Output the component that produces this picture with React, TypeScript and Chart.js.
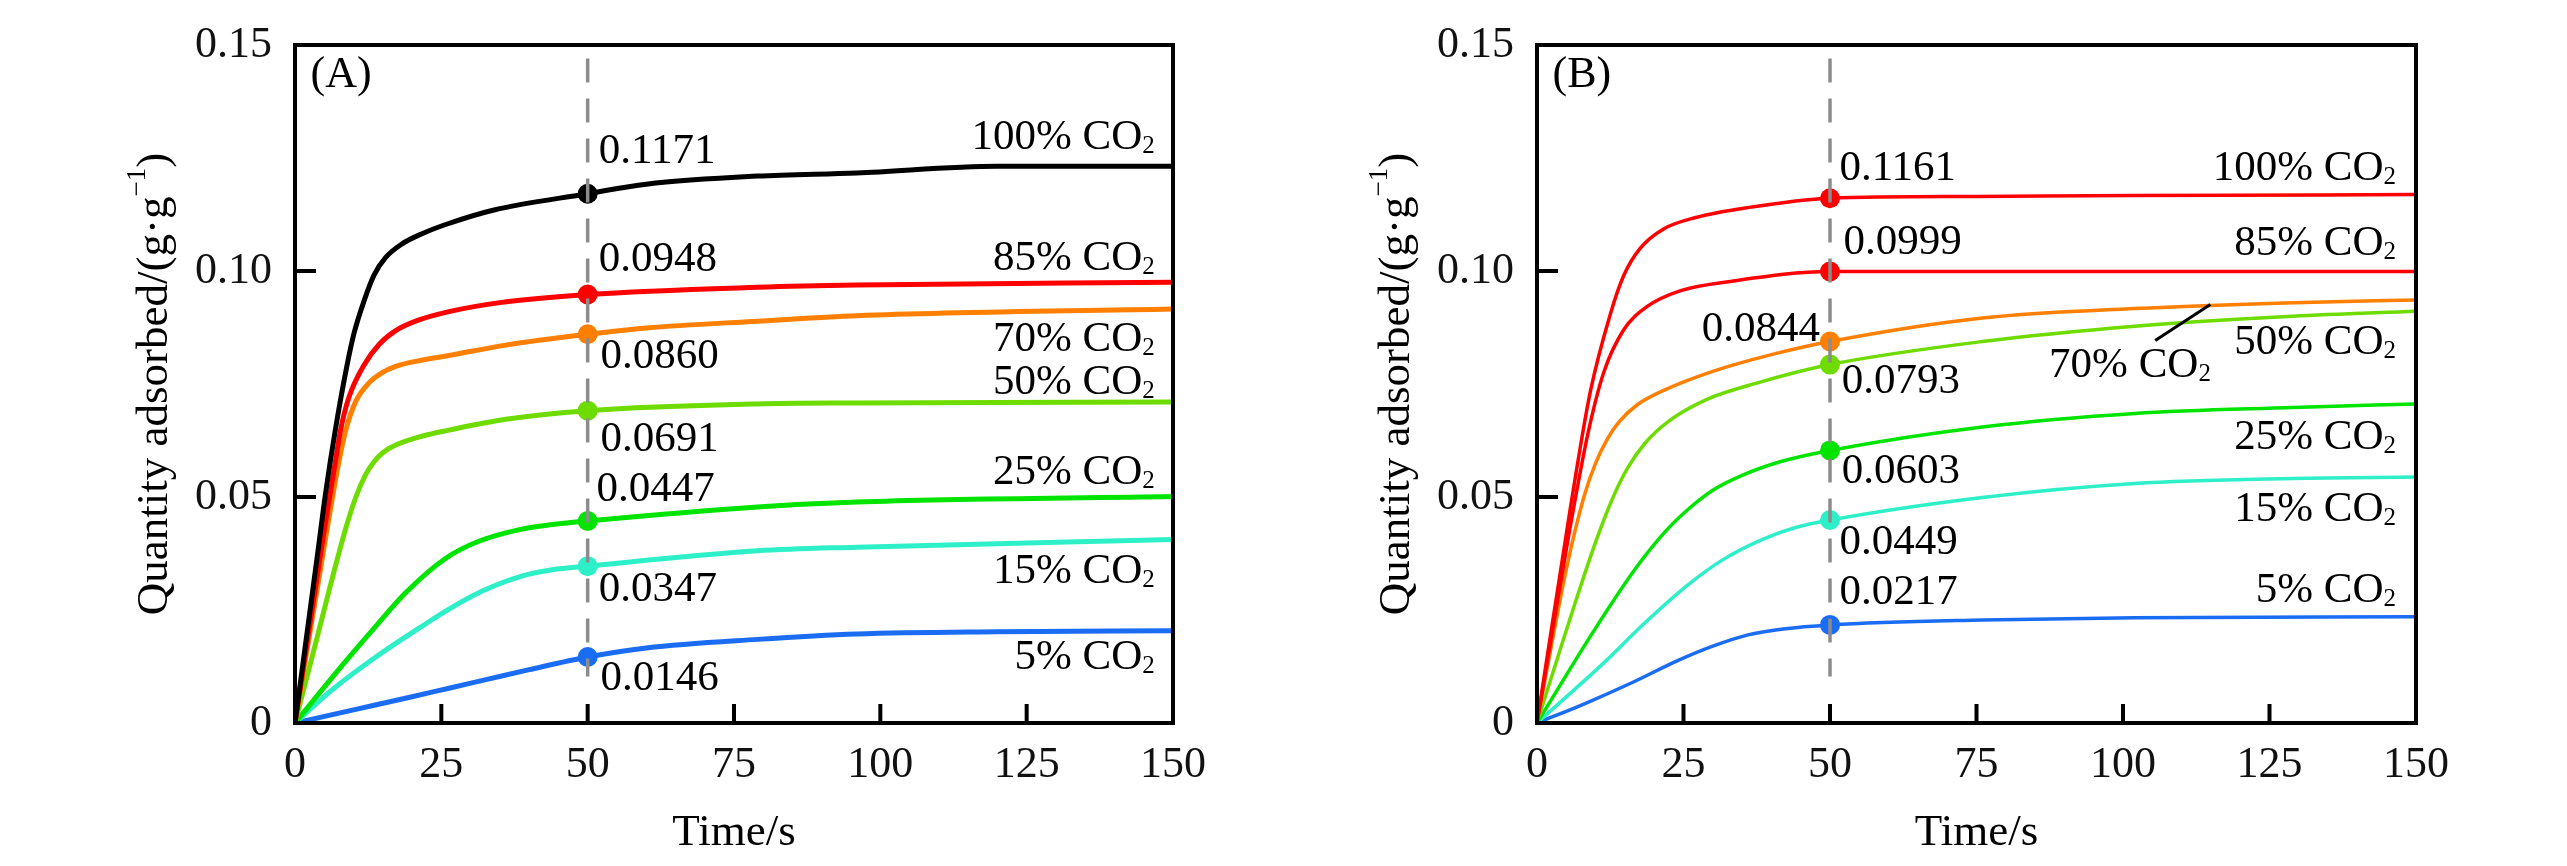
import React, { useEffect, useRef } from 'react';
import { Chart, registerables } from 'chart.js';

Chart.register(...registerables);

const FONT = '"Liberation Serif", "Times New Roman", Times, serif';

// ---------- shared ----------
const concentrations = ['100', '85', '70', '50', '25', '15', '5'];
const xTicks = [0, 25, 50, 75, 100, 125, 150];
const yTicks = [0, 0.05, 0.1, 0.15];
const markerTime = 50;
const dashRange = [0.147, 0.0103];

// ---------- panel A data: [time s, quantity g/g] ----------
const a100 = [[0, 0], [3.8, 0.0368], [5.2, 0.0506], [6.9, 0.0649], [8.9, 0.0792], [10.1, 0.0863], [11.8, 0.0934], [13.5, 0.0991], [15.5, 0.103], [18.3, 0.106], [21.8, 0.1083], [26, 0.1104], [34, 0.1135], [50, 0.1171], [60, 0.1192], [79, 0.121], [96, 0.1217], [120, 0.1232], [150, 0.1232]];
const a85 = [[0, 0], [5.1, 0.0435], [6.9, 0.0578], [7.8, 0.0649], [9.2, 0.072], [11.8, 0.0792], [14.4, 0.0838], [17.2, 0.0868], [20.6, 0.0889], [26.3, 0.091], [35, 0.093], [50, 0.0948], [79, 0.0964], [96, 0.0969], [150, 0.0975]];
const a70 = [[0, 0], [5.5, 0.043], [7.5, 0.0578], [8.7, 0.0649], [10.4, 0.0712], [12.6, 0.0752], [14.9, 0.0775], [17.2, 0.0789], [21.8, 0.0803], [26.3, 0.0813], [36, 0.0836], [50, 0.086], [60, 0.0874], [79, 0.0889], [96, 0.0901], [150, 0.0916]];
const a50 = [[0, 0], [3.2, 0.016], [5.8, 0.0292], [8.7, 0.0432], [10.4, 0.05], [12, 0.0548], [13.5, 0.0578], [15, 0.0598], [17.2, 0.0615], [21.8, 0.0635], [26.3, 0.0648], [36, 0.0672], [50, 0.0691], [79, 0.0706], [96, 0.0708], [150, 0.071]];
const a25 = [[0, 0], [8.1, 0.0128], [13.2, 0.0205], [18.9, 0.0288], [25.7, 0.0364], [31.4, 0.0402], [38.75, 0.0429], [44, 0.0439], [50, 0.0447], [79, 0.0478], [96, 0.0489], [150, 0.0501]];
const a15 = [[0, 0], [6.4, 0.0074], [13.8, 0.0146], [21.8, 0.0215], [26.3, 0.0252], [32, 0.0292], [38.75, 0.0325], [44, 0.0339], [50, 0.0347], [79, 0.0381], [96, 0.0389], [150, 0.0406]];
const a5 = [[0, 0], [10, 0.0029], [20, 0.0058], [26.3, 0.0077], [33, 0.0097], [40, 0.0118], [50, 0.0146], [60, 0.0166], [79, 0.0185], [96, 0.0197], [120, 0.0202], [150, 0.0204]];
const aMarkers = [0.1171, 0.0948, 0.086, 0.0691, 0.0447, 0.0347, 0.0146];
const aColors = ['#000000', '#ff0000', '#ff7f00', '#6edc00', '#00e400', '#2ef0c8', '#1a6cf2'];

// ---------- panel B data ----------
const b100 = [[0, 0], [5.7, 0.0476], [9.1, 0.0733], [12.5, 0.0904], [14.8, 0.099], [17.6, 0.105], [21.6, 0.1093], [27.3, 0.1119], [35.8, 0.114], [50, 0.1161], [75, 0.1165], [102, 0.1167], [150, 0.1169]];
const b85 = [[0, 0], [6.25, 0.0476], [8.8, 0.0647], [11.4, 0.0776], [14.8, 0.087], [18.75, 0.0921], [24.4, 0.0956], [33, 0.0977], [50, 0.0999], [100, 0.0999], [150, 0.0999]];
const b70 = [[0, 0], [5, 0.034], [8, 0.05], [10, 0.0575], [12, 0.0628], [14, 0.0666], [17, 0.0703], [22, 0.0738], [30, 0.0778], [40, 0.0815], [50, 0.0844], [76, 0.0896], [102, 0.0917], [129, 0.093], [150, 0.0936]];
const b50 = [[0, 0], [5, 0.0205], [10, 0.04], [13, 0.05], [15.5, 0.0565], [18.5, 0.062], [22.5, 0.0668], [29, 0.0716], [37.5, 0.0752], [50, 0.0793], [76, 0.0844], [102, 0.0878], [129, 0.09], [150, 0.0911]];
const b25 = [[0, 0], [10, 0.021], [17, 0.0345], [22, 0.0425], [26, 0.0475], [30, 0.0515], [35, 0.0548], [41.5, 0.0578], [50, 0.0603], [76, 0.0655], [102, 0.0685], [129, 0.0698], [150, 0.0706]];
const b15 = [[0, 0], [11.4, 0.0133], [18.2, 0.0219], [25.6, 0.0304], [31.8, 0.0362], [38.6, 0.0407], [44, 0.0432], [50, 0.0449], [76, 0.0499], [102, 0.053], [129, 0.0541], [150, 0.0544]];
const b5 = [[0, 0], [8, 0.0042], [16, 0.0088], [24, 0.0138], [30, 0.017], [36, 0.0195], [42, 0.0208], [50, 0.0217], [76, 0.0228], [102, 0.0233], [150, 0.0235]];
const bMarkers = [0.1161, 0.0999, 0.0844, 0.0793, 0.0603, 0.0449, 0.0217];
const bColors = ['#ff0000', '#ff0000', '#ff7f00', '#6edc00', '#00e400', '#2ef0c8', '#1a6cf2'];

// ---------- annotation anchors (data space: [time, quantity, align]) ----------
const aValuePos: [number, number, string][] = [[51.9, 0.1238, 'left'], [51.9, 0.0999, 'left'], [52.2, 0.0785, 'left'], [52.2, 0.0602, 'left'], [51.5, 0.0492, 'left'], [51.9, 0.0271, 'left'], [52.2, 0.0074, 'left']];
const aNamePos: [number, number, string][] = [[146.9, 0.1271, 'right'], [146.9, 0.1003, 'right'], [146.9, 0.0824, 'right'], [146.9, 0.0728, 'right'], [146.9, 0.0528, 'right'], [146.9, 0.031, 'right'], [146.9, 0.0119, 'right']];
const bValuePos: [number, number, string][] = [[51.6, 0.1202, 'left'], [52.3, 0.1038, 'left'], [48.3, 0.0846, 'right'], [52.0, 0.0729, 'left'], [52.0, 0.053, 'left'], [51.6, 0.0375, 'left'], [51.6, 0.0263, 'left']];
const bNamePos: [number, number, string][] = [[146.6, 0.1202, 'right'], [146.6, 0.1036, 'right'], [115.0, 0.0765, 'right'], [146.6, 0.0816, 'right'], [146.6, 0.0607, 'right'], [146.6, 0.0448, 'right'], [146.6, 0.0267, 'right']];
const bLeader = [[105.5, 0.0846], [114.9, 0.0926]];
const letterPos = [2.65, 0.1406];

const panelA = {
  letter: '(A)', series: [a100, a85, a70, a50, a25, a15, a5], markers: aMarkers, colors: aColors,
  lineWidth: 5, valuePos: aValuePos, namePos: aNamePos, leader: null as number[][] | null, padRight: 110,
};
const panelB = {
  letter: '(B)', series: [b100, b85, b70, b50, b25, b15, b5], markers: bMarkers, colors: bColors,
  lineWidth: 3.5, valuePos: bValuePos, namePos: bNamePos, leader: bLeader, padRight: 109,
};

const TEXT_SIZE = 43;
const SUB_SIZE = 25;

function drawCO2(ctx: CanvasRenderingContext2D, pct: string, px: number, py: number, align: string) {
  const main = pct + '% CO';
  ctx.font = `${TEXT_SIZE}px ${FONT}`;
  const w1 = ctx.measureText(main).width;
  ctx.font = `${SUB_SIZE}px ${FONT}`;
  const w2 = ctx.measureText('2').width;
  const x0 = align === 'right' ? px - (w1 + w2) : px;
  ctx.textAlign = 'left';
  ctx.textBaseline = 'alphabetic';
  ctx.font = `${TEXT_SIZE}px ${FONT}`;
  ctx.fillText(main, x0, py);
  ctx.font = `${SUB_SIZE}px ${FONT}`;
  ctx.fillText('2', x0 + w1, py + 4);
}

const annotatePlugin = {
  id: 'annotate',
  afterDraw(chart: any, _args: any, opts: any) {
    const cfg = opts.cfg;
    const { ctx, chartArea: ca } = chart;
    const x = chart.scales.x;
    const y = chart.scales.y;
    ctx.save();
    ctx.strokeStyle = '#000';
    ctx.fillStyle = '#000';
    ctx.lineWidth = 4;
    // inward tick marks
    ctx.beginPath();
    for (const v of xTicks) {
      const px = x.getPixelForValue(v);
      ctx.moveTo(px, ca.bottom);
      ctx.lineTo(px, ca.bottom - 19);
    }
    for (const v of yTicks) {
      const py = y.getPixelForValue(v);
      ctx.moveTo(ca.left, py);
      ctx.lineTo(ca.left + 21, py);
    }
    ctx.stroke();
    // frame
    ctx.strokeRect(ca.left, ca.top, ca.right - ca.left, ca.bottom - ca.top);

    // panel letter
    ctx.font = `44px ${FONT}`;
    ctx.textAlign = 'left';
    ctx.textBaseline = 'alphabetic';
    ctx.fillText(cfg.letter, x.getPixelForValue(letterPos[0]), y.getPixelForValue(letterPos[1]));

    // value labels
    cfg.markers.forEach((v: number, i: number) => {
      const [t, q, al] = cfg.valuePos[i];
      ctx.font = `${TEXT_SIZE}px ${FONT}`;
      ctx.textAlign = al;
      ctx.textBaseline = 'alphabetic';
      ctx.fillText(v.toFixed(4), x.getPixelForValue(t), y.getPixelForValue(q));
    });
    // series labels
    concentrations.forEach((c, i) => {
      const [t, q, al] = cfg.namePos[i];
      drawCO2(ctx, c, x.getPixelForValue(t), y.getPixelForValue(q), al);
    });
    // leader line
    if (cfg.leader) {
      ctx.lineWidth = 3;
      ctx.beginPath();
      ctx.moveTo(x.getPixelForValue(cfg.leader[0][0]), y.getPixelForValue(cfg.leader[0][1]));
      ctx.lineTo(x.getPixelForValue(cfg.leader[1][0]), y.getPixelForValue(cfg.leader[1][1]));
      ctx.stroke();
    }

    // x title
    ctx.font = `45px ${FONT}`;
    ctx.textAlign = 'center';
    ctx.textBaseline = 'alphabetic';
    ctx.fillText('Time/s', (ca.left + ca.right) / 2, ca.bottom + 122);

    // y title (rotated, with superscript)
    const parts = [
      { text: 'Quantity adsorbed/(g\u00b7g', size: 45, rise: 0 },
      { text: '\u22121', size: 27, rise: 22 },
      { text: ')', size: 45, rise: 0 },
    ];
    let total = 0;
    const widths = parts.map((p) => {
      ctx.font = `${p.size}px ${FONT}`;
      const w = ctx.measureText(p.text).width;
      total += w;
      return w;
    });
    ctx.translate(ca.left - 128, (ca.top + ca.bottom) / 2);
    ctx.rotate(-Math.PI / 2);
    ctx.textAlign = 'left';
    let cx = -total / 2;
    parts.forEach((p, i) => {
      ctx.font = `${p.size}px ${FONT}`;
      ctx.fillText(p.text, cx, -p.rise);
      cx += widths[i];
    });
    ctx.restore();
  },
};

function Panel({ cfg, left }: { cfg: typeof panelA; left: number }) {
  const ref = useRef<HTMLCanvasElement>(null);
  useEffect(() => {
    const datasets: any[] = [
      {
        type: 'line',
        data: [{ x: markerTime, y: dashRange[0] }, { x: markerTime, y: dashRange[1] }],
        borderColor: '#8c8c8c',
        borderWidth: 3.5,
        borderDash: [24, 16],
        pointRadius: 0,
        order: -2,
      },
      {
        type: 'line',
        data: cfg.markers.map((v) => ({ x: markerTime, y: v })),
        showLine: false,
        pointRadius: 10,
        pointBorderWidth: 0,
        pointBackgroundColor: cfg.colors,
        pointBorderColor: cfg.colors,
        order: -1,
      },
      ...cfg.series.map((s, i) => ({
        type: 'line',
        data: s.map(([t, q]) => ({ x: t, y: q })),
        borderColor: cfg.colors[i],
        borderWidth: cfg.lineWidth,
        pointRadius: 0,
        fill: false,
        cubicInterpolationMode: 'monotone',
        order: i,
      })),
    ];
    const chart = new Chart(ref.current as HTMLCanvasElement, {
      type: 'line',
      data: { datasets },
      plugins: [annotatePlugin as any],
      options: {
        responsive: false,
        animation: false,
        devicePixelRatio: 1,
        events: [],
        layout: { padding: { left: 0, right: cfg.padRight, top: 23, bottom: 0 } },
        plugins: {
          legend: { display: false },
          tooltip: { enabled: false },
          annotate: { cfg },
        } as any,
        scales: {
          x: {
            type: 'linear',
            min: 0,
            max: 150,
            afterFit: (s: any) => { s.height = 143; },
            grid: { display: false, drawTicks: false },
            border: { display: false },
            ticks: { stepSize: 25, padding: 20, color: '#111', maxRotation: 0, autoSkip: false, font: { family: FONT, size: 44, lineHeight: 1 } },
          },
          y: {
            type: 'linear',
            min: 0,
            max: 0.15,
            afterFit: (s: any) => { s.width = 295; },
            grid: { display: false, drawTicks: false },
            border: { display: false },
            ticks: {
              stepSize: 0.05,
              padding: 23,
              color: '#111',
              font: { family: FONT, size: 44, lineHeight: 1 },
              callback: (v: any) => (Math.abs(v) < 1e-9 ? '0' : Number(v).toFixed(2)),
            },
          },
        },
      } as any,
    });
    return () => chart.destroy();
  }, []);
  return (
    <canvas
      ref={ref}
      width={1283}
      height={866}
      style={{ position: 'absolute', left, top: 0, width: 1283, height: 866 }}
    />
  );
}

export default function App() {
  return (
    <div style={{ position: 'absolute', left: 0, top: 0, width: 2567, height: 866, background: '#ffffff', overflow: 'hidden' }}>
      <Panel cfg={panelA} left={0} />
      <Panel cfg={panelB} left={1242} />
    </div>
  );
}
